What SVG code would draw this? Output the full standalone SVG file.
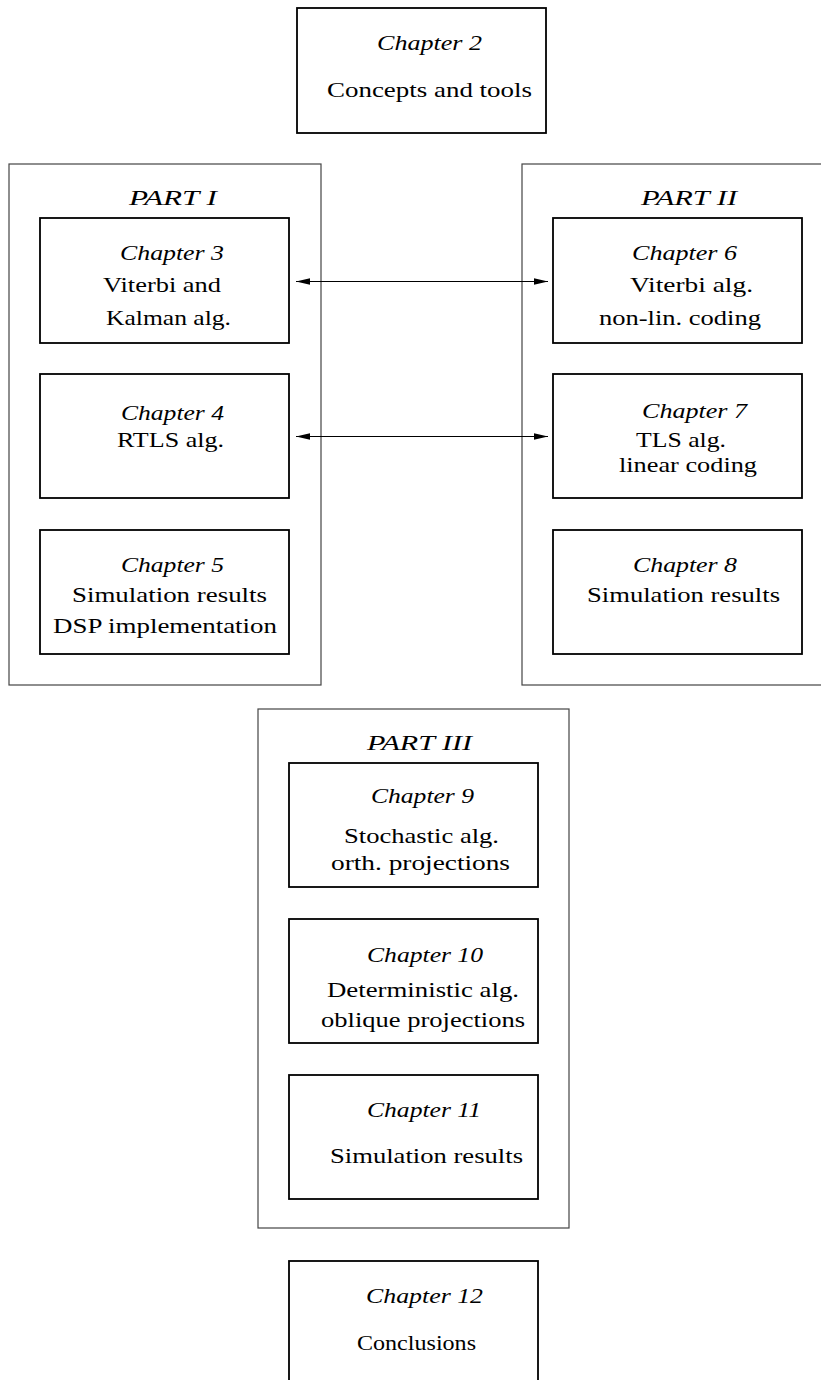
<svg xmlns="http://www.w3.org/2000/svg" width="821" height="1380" viewBox="0 0 821 1380">
<style>
.part{fill:none;stroke:#444;stroke-width:1.2}
.box{fill:none;stroke:#000;stroke-width:1.8}
text{font-family:"Liberation Serif","DejaVu Serif",serif;font-size:21px;fill:#000}
.it{font-style:italic}
.conn{stroke:#000;stroke-width:1;fill:none}
</style>
<defs>
<marker id="ah" viewBox="0 0 14 8" refX="14" refY="4" markerWidth="14" markerHeight="8" markerUnits="userSpaceOnUse" orient="auto-start-reverse">
<path d="M0,0.8 L14,4 L0,7.2 Z" fill="#000"/>
</marker>
</defs>
<rect width="821" height="1380" fill="#fff"/>

<g id="ch2">
<rect class="box" x="297" y="8" width="249" height="125"/>
<text class="it" x="377" y="50" textLength="105" lengthAdjust="spacingAndGlyphs">Chapter 2</text>
<text x="327" y="97" textLength="205" lengthAdjust="spacingAndGlyphs">Concepts and tools</text>
</g>

<g id="part1">
<rect class="part" x="9" y="164" width="312" height="521"/>
<text class="it" x="129" y="205" textLength="88" lengthAdjust="spacingAndGlyphs">PART I</text>
</g>
<g id="ch3">
<rect class="box" x="40" y="218" width="249" height="125"/>
<text class="it" x="120" y="260" textLength="104" lengthAdjust="spacingAndGlyphs">Chapter 3</text>
<text x="103" y="292" textLength="118" lengthAdjust="spacingAndGlyphs">Viterbi and</text>
<text x="106" y="325" textLength="125" lengthAdjust="spacingAndGlyphs">Kalman alg.</text>
</g>
<g id="ch4">
<rect class="box" x="40" y="374" width="249" height="124"/>
<text class="it" x="121" y="420" textLength="103" lengthAdjust="spacingAndGlyphs">Chapter 4</text>
<text x="117" y="447" textLength="107" lengthAdjust="spacingAndGlyphs">RTLS alg.</text>
</g>
<g id="ch5">
<rect class="box" x="40" y="530" width="249" height="124"/>
<text class="it" x="121" y="572" textLength="103" lengthAdjust="spacingAndGlyphs">Chapter 5</text>
<text x="72" y="602" textLength="195" lengthAdjust="spacingAndGlyphs">Simulation results</text>
<text x="53" y="633" textLength="224" lengthAdjust="spacingAndGlyphs">DSP implementation</text>
</g>

<g id="part2">
<rect class="part" x="522" y="164" width="305" height="521"/>
<text class="it" x="641" y="205" textLength="96" lengthAdjust="spacingAndGlyphs">PART II</text>
</g>
<g id="ch6">
<rect class="box" x="553" y="218" width="249" height="125"/>
<text class="it" x="632" y="260" textLength="105" lengthAdjust="spacingAndGlyphs">Chapter 6</text>
<text x="630" y="292" textLength="123" lengthAdjust="spacingAndGlyphs">Viterbi alg.</text>
<text x="599" y="325" textLength="162" lengthAdjust="spacingAndGlyphs">non-lin. coding</text>
</g>
<g id="ch7">
<rect class="box" x="553" y="374" width="249" height="124"/>
<text class="it" x="642" y="418" textLength="105" lengthAdjust="spacingAndGlyphs">Chapter 7</text>
<text x="636" y="447" textLength="90" lengthAdjust="spacingAndGlyphs">TLS alg.</text>
<text x="619" y="472" textLength="138" lengthAdjust="spacingAndGlyphs">linear coding</text>
</g>
<g id="ch8">
<rect class="box" x="553" y="530" width="249" height="124"/>
<text class="it" x="633" y="572" textLength="104" lengthAdjust="spacingAndGlyphs">Chapter 8</text>
<text x="587" y="602" textLength="193" lengthAdjust="spacingAndGlyphs">Simulation results</text>
</g>

<g id="part3">
<rect class="part" x="258" y="709" width="311" height="519"/>
<text class="it" x="367" y="750" textLength="105" lengthAdjust="spacingAndGlyphs">PART III</text>
</g>
<g id="ch9">
<rect class="box" x="289" y="763" width="249" height="124"/>
<text class="it" x="371" y="803" textLength="103" lengthAdjust="spacingAndGlyphs">Chapter 9</text>
<text x="344" y="843" textLength="155" lengthAdjust="spacingAndGlyphs">Stochastic alg.</text>
<text x="331" y="870" textLength="179" lengthAdjust="spacingAndGlyphs">orth. projections</text>
</g>
<g id="ch10">
<rect class="box" x="289" y="919" width="249" height="124"/>
<text class="it" x="367" y="962" textLength="116" lengthAdjust="spacingAndGlyphs">Chapter 10</text>
<text x="327" y="997" textLength="192" lengthAdjust="spacingAndGlyphs">Deterministic alg.</text>
<text x="321" y="1027" textLength="204" lengthAdjust="spacingAndGlyphs">oblique projections</text>
</g>
<g id="ch11">
<rect class="box" x="289" y="1075" width="249" height="124"/>
<text class="it" x="367" y="1117" textLength="114" lengthAdjust="spacingAndGlyphs">Chapter 11</text>
<text x="330" y="1163" textLength="193" lengthAdjust="spacingAndGlyphs">Simulation results</text>
</g>

<g id="ch12">
<rect class="box" x="289" y="1261" width="249" height="130"/>
<text class="it" x="366" y="1303" textLength="117" lengthAdjust="spacingAndGlyphs">Chapter 12</text>
<text x="357" y="1350" textLength="119" lengthAdjust="spacingAndGlyphs">Conclusions</text>
</g>

<g id="connectors">
<line class="conn" x1="296" y1="281.5" x2="548" y2="281.5" marker-start="url(#ah)" marker-end="url(#ah)"/>
<line class="conn" x1="296" y1="436.5" x2="548" y2="436.5" marker-start="url(#ah)" marker-end="url(#ah)"/>
</g>
</svg>
